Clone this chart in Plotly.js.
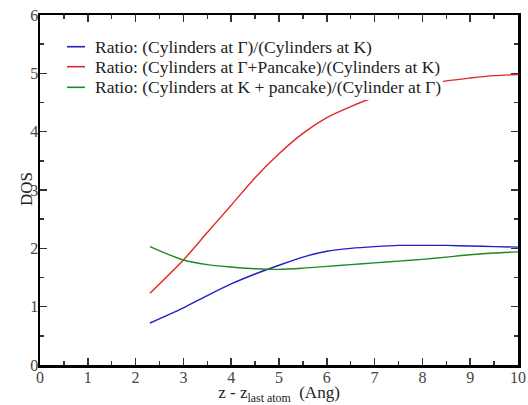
<!DOCTYPE html>
<html>
<head>
<meta charset="utf-8">
<script src="https://cdn.plot.ly/plotly-3.0.1.min.js"></script>
<style>html,body{margin:0;padding:0;background:#fff;}#chart{width:528px;height:405px;}</style>
</head>
<body>
<div id="chart"></div>
<script>
const xValues = [2.3, 3.0, 3.5, 4.0, 4.5, 5.0, 5.5, 6.0, 6.5, 7.0, 7.5, 8.0, 8.5, 9.0, 9.5, 10.0];
const ratioGammaK = [0.72, 0.98, 1.19, 1.39, 1.56, 1.71, 1.85, 1.95, 2.00, 2.03, 2.05, 2.05, 2.05, 2.04, 2.03, 2.02];
const ratioGammaPancakeK = [1.23, 1.80, 2.27, 2.74, 3.21, 3.62, 3.97, 4.24, 4.43, 4.59, 4.70, 4.79, 4.87, 4.92, 4.96, 4.98];
const ratioKPancakeGamma = [2.03, 1.80, 1.72, 1.68, 1.65, 1.64, 1.66, 1.69, 1.72, 1.75, 1.78, 1.81, 1.85, 1.89, 1.92, 1.94];
const seriesNames = [
  'Ratio: (Cylinders at Γ)/(Cylinders at K)',
  'Ratio: (Cylinders at Γ+Pancake)/(Cylinders at K)',
  'Ratio: (Cylinders at K + pancake)/(Cylinder at Γ)'
];
const xTickLabels = ['0','1','2','3','4','5','6','7','8','9','10'];
const yTickLabels = ['0','1','2','3','4','5','6'];

const serif = 'Liberation Serif, Times New Roman, serif';
const colors = ['#2020c8', '#e02828', '#1f8a1f'];
const series = [ratioGammaK, ratioGammaPancakeK, ratioKPancakeGamma];
const data = series.map((ys, i) => ({
  x: xValues, y: ys, type: 'scatter', mode: 'lines', name: seriesNames[i],
  line: {color: colors[i], width: 1.4, shape: 'spline', smoothing: 0.8},
  showlegend: false
}));

// legend drawn in paper coordinates (white box over the curves, like the original)
const legendRows = [0.9094, 0.8523, 0.7934];
const shapes = [{
  type: 'rect', xref: 'paper', yref: 'paper', x0: 0.031, x1: 0.843, y0: 0.757, y1: 0.957,
  fillcolor: '#fff', line: {width: 0}, layer: 'above'
}];
const annotations = [];
seriesNames.forEach((name, i) => {
  shapes.push({type: 'line', xref: 'paper', yref: 'paper', x0: 0.0565, x1: 0.0941,
    y0: legendRows[i], y1: legendRows[i], line: {color: colors[i], width: 1.6}, layer: 'above'});
  annotations.push({xref: 'paper', yref: 'paper', x: 0.1109, y: legendRows[i],
    xanchor: 'left', yanchor: 'middle', showarrow: false, text: name,
    font: {family: serif, size: 17.5, color: '#222'}});
});
annotations.push({xref: 'paper', yref: 'paper', x: -0.027, y: 0.503, xanchor: 'center', yanchor: 'middle',
  showarrow: false, text: 'DOS', textangle: -90, font: {family: serif, size: 17, color: '#222'}});

const axisCommon = {
  showline: true, linecolor: '#000', linewidth: 2.5, mirror: 'allticks',
  ticks: 'inside', ticklen: 7, tickwidth: 1.5, tickcolor: '#333',
  showgrid: false, zeroline: false,
  tickfont: {family: serif, size: 16, color: '#444'}
};

const layout = {
  width: 528, height: 405,
  margin: {l: 40, r: 10, t: 15, b: 40},
  paper_bgcolor: '#fff', plot_bgcolor: '#fff',
  font: {family: serif},
  showlegend: false,
  shapes: shapes,
  annotations: annotations,
  xaxis: Object.assign({}, axisCommon, {
    range: [0, 10], tickmode: 'array',
    tickvals: xTickLabels.map(Number), ticktext: xTickLabels,
    ticklabelstandoff: -4,
    minor: {tickmode: 'linear', tick0: 0, dtick: 0.5, ticks: 'inside', ticklen: 4, tickwidth: 1.5, tickcolor: '#333'},
    title: {text: 'z - z<sub>last atom</sub>  (Ang)', font: {family: serif, size: 17, color: '#222'}, standoff: 2}
  }),
  yaxis: Object.assign({}, axisCommon, {
    range: [0, 6], tickmode: 'array',
    tickvals: yTickLabels.map(Number), ticktext: yTickLabels,
    ticklabelstandoff: -4,
    minor: {tickmode: 'linear', tick0: 0, dtick: 0.5, ticks: 'inside', ticklen: 4, tickwidth: 1.5, tickcolor: '#333'}
  })
};

Plotly.newPlot('chart', data, layout, {displayModeBar: false, staticPlot: true});
</script>
</body>
</html>
